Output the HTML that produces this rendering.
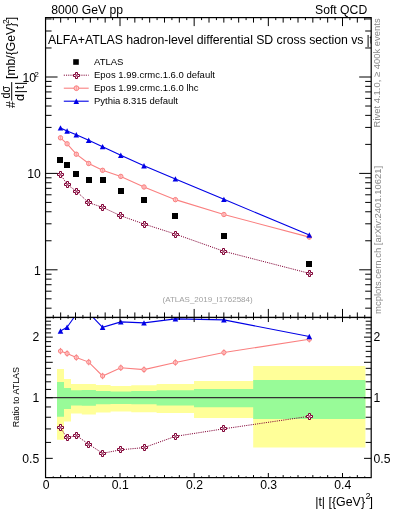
<!DOCTYPE html><html><head><meta charset="utf-8"><style>html,body{margin:0;padding:0;background:#fff;width:393px;height:512px;overflow:hidden}svg{display:block;will-change:transform}</style></head><body><svg width="393" height="512" viewBox="0 0 393 512" font-family="Liberation Sans, sans-serif">
<rect x="0" y="0" width="393" height="512" fill="#fff"/>
<defs>
<clipPath id="cm"><rect x="45.55" y="17.6" width="325.65" height="299.84999999999997"/></clipPath>
<clipPath id="cr"><rect x="45.55" y="317.45" width="325.65" height="160.15000000000003"/></clipPath>
</defs>
<g clip-path="url(#cr)">
<path d="M57.00,369.00 L64.00,369.00 L64.00,378.90 L71.00,378.90 L71.00,384.10 L81.80,384.10 L81.80,383.90 L95.90,383.90 L95.90,385.10 L110.60,385.10 L110.60,385.90 L131.30,385.90 L131.30,385.20 L156.60,385.20 L156.60,384.00 L194.00,384.00 L194.00,381.00 L253.20,381.00 L253.20,366.10 L365.40,366.10 L365.40,447.40 L253.20,447.40 L253.20,418.00 L194.00,418.00 L194.00,413.00 L156.60,413.00 L156.60,412.35 L131.30,412.35 L131.30,411.40 L110.60,411.40 L110.60,412.40 L95.90,412.40 L95.90,414.40 L81.80,414.40 L81.80,413.50 L71.00,413.50 L71.00,421.60 L64.00,421.60 L64.00,439.70 L57.00,439.70Z" fill="#ffff99"/>
<path d="M57.00,381.90 L64.00,381.90 L64.00,388.00 L71.00,388.00 L71.00,390.30 L81.80,390.30 L81.80,390.10 L95.90,390.10 L95.90,391.00 L110.60,391.00 L110.60,391.45 L131.30,391.45 L131.30,391.00 L156.60,391.00 L156.60,390.30 L194.00,390.30 L194.00,389.00 L253.20,389.00 L253.20,380.00 L365.40,380.00 L365.40,419.00 L253.20,419.00 L253.20,407.20 L194.00,407.20 L194.00,405.50 L156.60,405.50 L156.60,404.30 L131.30,404.30 L131.30,404.00 L110.60,404.00 L110.60,404.30 L95.90,404.30 L95.90,405.80 L81.80,405.80 L81.80,405.50 L71.00,405.50 L71.00,409.00 L64.00,409.00 L64.00,416.80 L57.00,416.80Z" fill="#98fb98"/>
<line x1="45.55" y1="397.65" x2="371.2" y2="397.65" stroke="#333" stroke-width="1.2"/>
</g>
<g clip-path="url(#cr)">
<path d="M60.50,427.80 L67.10,437.90 L76.30,435.50 L88.70,444.20 L102.60,453.30 L120.80,449.80 L144.00,447.60 L175.40,436.35 L223.90,428.80 L309.30,416.30" fill="none" stroke="#800035" stroke-width="1.0" stroke-dasharray="1.1,1.1"/>
<path d="M60.50,351.10 L67.10,353.50 L76.30,357.50 L88.70,362.10 L102.60,376.00 L120.80,367.80 L144.00,369.60 L175.40,362.50 L223.90,352.50 L309.30,339.30" fill="none" stroke="#fa8080" stroke-width="1.1"/>
<path d="M60.50,331.00 L67.10,327.20 L76.30,314.20 L88.70,312.90 L102.60,327.30 L120.80,321.90 L144.00,322.90 L175.40,318.90 L223.90,319.90 L309.30,336.50" fill="none" stroke="#0000e6" stroke-width="1.1"/>
<path d="M59.50,424.50 L61.50,424.50 L61.50,426.50 L63.50,426.50 L63.50,428.50 L61.50,428.50 L61.50,430.50 L59.50,430.50 L59.50,428.50 L57.50,428.50 L57.50,426.50 L59.50,426.50Z" fill="#fff" stroke="#800035" stroke-width="1.0"/><path d="M60.50,426.10V428.90M59.10,427.50H61.90" stroke="#800035" stroke-width="0.5" fill="none"/>
<path d="M66.50,434.50 L68.50,434.50 L68.50,436.50 L70.50,436.50 L70.50,438.50 L68.50,438.50 L68.50,440.50 L66.50,440.50 L66.50,438.50 L64.50,438.50 L64.50,436.50 L66.50,436.50Z" fill="#fff" stroke="#800035" stroke-width="1.0"/><path d="M67.50,436.10V438.90M66.10,437.50H68.90" stroke="#800035" stroke-width="0.5" fill="none"/>
<path d="M75.50,432.50 L77.50,432.50 L77.50,434.50 L79.50,434.50 L79.50,436.50 L77.50,436.50 L77.50,438.50 L75.50,438.50 L75.50,436.50 L73.50,436.50 L73.50,434.50 L75.50,434.50Z" fill="#fff" stroke="#800035" stroke-width="1.0"/><path d="M76.50,434.10V436.90M75.10,435.50H77.90" stroke="#800035" stroke-width="0.5" fill="none"/>
<path d="M87.50,441.50 L89.50,441.50 L89.50,443.50 L91.50,443.50 L91.50,445.50 L89.50,445.50 L89.50,447.50 L87.50,447.50 L87.50,445.50 L85.50,445.50 L85.50,443.50 L87.50,443.50Z" fill="#fff" stroke="#800035" stroke-width="1.0"/><path d="M88.50,443.10V445.90M87.10,444.50H89.90" stroke="#800035" stroke-width="0.5" fill="none"/>
<path d="M101.50,450.50 L103.50,450.50 L103.50,452.50 L105.50,452.50 L105.50,454.50 L103.50,454.50 L103.50,456.50 L101.50,456.50 L101.50,454.50 L99.50,454.50 L99.50,452.50 L101.50,452.50Z" fill="#fff" stroke="#800035" stroke-width="1.0"/><path d="M102.50,452.10V454.90M101.10,453.50H103.90" stroke="#800035" stroke-width="0.5" fill="none"/>
<path d="M119.50,446.50 L121.50,446.50 L121.50,448.50 L123.50,448.50 L123.50,450.50 L121.50,450.50 L121.50,452.50 L119.50,452.50 L119.50,450.50 L117.50,450.50 L117.50,448.50 L119.50,448.50Z" fill="#fff" stroke="#800035" stroke-width="1.0"/><path d="M120.50,448.10V450.90M119.10,449.50H121.90" stroke="#800035" stroke-width="0.5" fill="none"/>
<path d="M143.50,444.50 L145.50,444.50 L145.50,446.50 L147.50,446.50 L147.50,448.50 L145.50,448.50 L145.50,450.50 L143.50,450.50 L143.50,448.50 L141.50,448.50 L141.50,446.50 L143.50,446.50Z" fill="#fff" stroke="#800035" stroke-width="1.0"/><path d="M144.50,446.10V448.90M143.10,447.50H145.90" stroke="#800035" stroke-width="0.5" fill="none"/>
<path d="M174.50,433.50 L176.50,433.50 L176.50,435.50 L178.50,435.50 L178.50,437.50 L176.50,437.50 L176.50,439.50 L174.50,439.50 L174.50,437.50 L172.50,437.50 L172.50,435.50 L174.50,435.50Z" fill="#fff" stroke="#800035" stroke-width="1.0"/><path d="M175.50,435.10V437.90M174.10,436.50H176.90" stroke="#800035" stroke-width="0.5" fill="none"/>
<path d="M222.50,425.50 L224.50,425.50 L224.50,427.50 L226.50,427.50 L226.50,429.50 L224.50,429.50 L224.50,431.50 L222.50,431.50 L222.50,429.50 L220.50,429.50 L220.50,427.50 L222.50,427.50Z" fill="#fff" stroke="#800035" stroke-width="1.0"/><path d="M223.50,427.10V429.90M222.10,428.50H224.90" stroke="#800035" stroke-width="0.5" fill="none"/>
<path d="M308.50,413.50 L310.50,413.50 L310.50,415.50 L312.50,415.50 L312.50,417.50 L310.50,417.50 L310.50,419.50 L308.50,419.50 L308.50,417.50 L306.50,417.50 L306.50,415.50 L308.50,415.50Z" fill="#fff" stroke="#800035" stroke-width="1.0"/><path d="M309.50,415.10V417.90M308.10,416.50H310.90" stroke="#800035" stroke-width="0.5" fill="none"/>
<line x1="60.50" y1="347.90" x2="60.50" y2="354.30" stroke="#fa8080" stroke-width="1"/>
<circle cx="60.50" cy="351.10" r="2.1" fill="#fcc" stroke="#fa8080" stroke-width="1.0"/><path d="M60.50,349.00V353.20" stroke="#fa8080" stroke-width="0.6"/>
<line x1="67.10" y1="350.30" x2="67.10" y2="356.70" stroke="#fa8080" stroke-width="1"/>
<circle cx="67.10" cy="353.50" r="2.1" fill="#fcc" stroke="#fa8080" stroke-width="1.0"/><path d="M67.10,351.40V355.60" stroke="#fa8080" stroke-width="0.6"/>
<line x1="76.30" y1="354.30" x2="76.30" y2="360.70" stroke="#fa8080" stroke-width="1"/>
<circle cx="76.30" cy="357.50" r="2.1" fill="#fcc" stroke="#fa8080" stroke-width="1.0"/><path d="M76.30,355.40V359.60" stroke="#fa8080" stroke-width="0.6"/>
<line x1="88.70" y1="358.90" x2="88.70" y2="365.30" stroke="#fa8080" stroke-width="1"/>
<circle cx="88.70" cy="362.10" r="2.1" fill="#fcc" stroke="#fa8080" stroke-width="1.0"/><path d="M88.70,360.00V364.20" stroke="#fa8080" stroke-width="0.6"/>
<line x1="102.60" y1="372.80" x2="102.60" y2="379.20" stroke="#fa8080" stroke-width="1"/>
<circle cx="102.60" cy="376.00" r="2.1" fill="#fcc" stroke="#fa8080" stroke-width="1.0"/><path d="M102.60,373.90V378.10" stroke="#fa8080" stroke-width="0.6"/>
<line x1="120.80" y1="364.60" x2="120.80" y2="371.00" stroke="#fa8080" stroke-width="1"/>
<circle cx="120.80" cy="367.80" r="2.1" fill="#fcc" stroke="#fa8080" stroke-width="1.0"/><path d="M120.80,365.70V369.90" stroke="#fa8080" stroke-width="0.6"/>
<line x1="144.00" y1="366.40" x2="144.00" y2="372.80" stroke="#fa8080" stroke-width="1"/>
<circle cx="144.00" cy="369.60" r="2.1" fill="#fcc" stroke="#fa8080" stroke-width="1.0"/><path d="M144.00,367.50V371.70" stroke="#fa8080" stroke-width="0.6"/>
<line x1="175.40" y1="359.30" x2="175.40" y2="365.70" stroke="#fa8080" stroke-width="1"/>
<circle cx="175.40" cy="362.50" r="2.1" fill="#fcc" stroke="#fa8080" stroke-width="1.0"/><path d="M175.40,360.40V364.60" stroke="#fa8080" stroke-width="0.6"/>
<line x1="223.90" y1="349.30" x2="223.90" y2="355.70" stroke="#fa8080" stroke-width="1"/>
<circle cx="223.90" cy="352.50" r="2.1" fill="#fcc" stroke="#fa8080" stroke-width="1.0"/><path d="M223.90,350.40V354.60" stroke="#fa8080" stroke-width="0.6"/>
<line x1="309.30" y1="336.10" x2="309.30" y2="342.50" stroke="#fa8080" stroke-width="1"/>
<circle cx="309.30" cy="339.30" r="2.1" fill="#fcc" stroke="#fa8080" stroke-width="1.0"/><path d="M309.30,337.20V341.40" stroke="#fa8080" stroke-width="0.6"/>
<path d="M60.50,328.30 L63.30,333.70 L57.70,333.70Z" fill="#0000e6"/>
<path d="M67.10,324.50 L69.90,329.90 L64.30,329.90Z" fill="#0000e6"/>
<path d="M76.30,311.50 L79.10,316.90 L73.50,316.90Z" fill="#0000e6"/>
<path d="M88.70,310.20 L91.50,315.60 L85.90,315.60Z" fill="#0000e6"/>
<path d="M102.60,324.60 L105.40,330.00 L99.80,330.00Z" fill="#0000e6"/>
<path d="M120.80,319.20 L123.60,324.60 L118.00,324.60Z" fill="#0000e6"/>
<path d="M144.00,320.20 L146.80,325.60 L141.20,325.60Z" fill="#0000e6"/>
<path d="M175.40,316.20 L178.20,321.60 L172.60,321.60Z" fill="#0000e6"/>
<path d="M223.90,317.20 L226.70,322.60 L221.10,322.60Z" fill="#0000e6"/>
<path d="M309.30,333.80 L312.10,339.20 L306.50,339.20Z" fill="#0000e6"/>
</g>
<g clip-path="url(#cm)">
<path d="M60.50,174.35 L67.10,184.40 L76.30,191.20 L88.70,202.70 L102.60,207.30 L120.80,215.80 L144.00,224.00 L175.40,234.10 L223.90,251.30 L309.30,273.35" fill="none" stroke="#800035" stroke-width="1.0" stroke-dasharray="1.1,1.1"/>
<path d="M60.50,137.80 L67.10,143.80 L76.30,154.20 L88.70,163.50 L102.60,170.30 L120.80,176.40 L144.00,187.00 L175.40,199.65 L223.90,214.50 L309.30,237.10" fill="none" stroke="#fa8080" stroke-width="1.1"/>
<path d="M60.50,127.90 L67.10,131.00 L76.30,134.70 L88.70,140.30 L102.60,146.65 L120.80,155.30 L144.00,165.70 L175.40,178.90 L223.90,199.35 L309.30,235.00" fill="none" stroke="#0000e6" stroke-width="1.1"/>
<rect x="57.00" y="157.00" width="6.0" height="6.0" fill="#000"/>
<rect x="64.00" y="162.00" width="6.0" height="6.0" fill="#000"/>
<rect x="73.00" y="171.00" width="6.0" height="6.0" fill="#000"/>
<rect x="86.00" y="177.00" width="6.0" height="6.0" fill="#000"/>
<rect x="100.00" y="177.00" width="6.0" height="6.0" fill="#000"/>
<rect x="118.00" y="188.00" width="6.0" height="6.0" fill="#000"/>
<rect x="141.00" y="197.00" width="6.0" height="6.0" fill="#000"/>
<rect x="172.00" y="213.00" width="6.0" height="6.0" fill="#000"/>
<rect x="221.00" y="233.00" width="6.0" height="6.0" fill="#000"/>
<rect x="306.00" y="261.00" width="6.0" height="6.0" fill="#000"/>
<path d="M59.50,171.50 L61.50,171.50 L61.50,173.50 L63.50,173.50 L63.50,175.50 L61.50,175.50 L61.50,177.50 L59.50,177.50 L59.50,175.50 L57.50,175.50 L57.50,173.50 L59.50,173.50Z" fill="#fff" stroke="#800035" stroke-width="1.0"/><path d="M60.50,173.10V175.90M59.10,174.50H61.90" stroke="#800035" stroke-width="0.5" fill="none"/>
<path d="M66.50,181.50 L68.50,181.50 L68.50,183.50 L70.50,183.50 L70.50,185.50 L68.50,185.50 L68.50,187.50 L66.50,187.50 L66.50,185.50 L64.50,185.50 L64.50,183.50 L66.50,183.50Z" fill="#fff" stroke="#800035" stroke-width="1.0"/><path d="M67.50,183.10V185.90M66.10,184.50H68.90" stroke="#800035" stroke-width="0.5" fill="none"/>
<path d="M75.50,188.50 L77.50,188.50 L77.50,190.50 L79.50,190.50 L79.50,192.50 L77.50,192.50 L77.50,194.50 L75.50,194.50 L75.50,192.50 L73.50,192.50 L73.50,190.50 L75.50,190.50Z" fill="#fff" stroke="#800035" stroke-width="1.0"/><path d="M76.50,190.10V192.90M75.10,191.50H77.90" stroke="#800035" stroke-width="0.5" fill="none"/>
<path d="M87.50,199.50 L89.50,199.50 L89.50,201.50 L91.50,201.50 L91.50,203.50 L89.50,203.50 L89.50,205.50 L87.50,205.50 L87.50,203.50 L85.50,203.50 L85.50,201.50 L87.50,201.50Z" fill="#fff" stroke="#800035" stroke-width="1.0"/><path d="M88.50,201.10V203.90M87.10,202.50H89.90" stroke="#800035" stroke-width="0.5" fill="none"/>
<path d="M101.50,204.50 L103.50,204.50 L103.50,206.50 L105.50,206.50 L105.50,208.50 L103.50,208.50 L103.50,210.50 L101.50,210.50 L101.50,208.50 L99.50,208.50 L99.50,206.50 L101.50,206.50Z" fill="#fff" stroke="#800035" stroke-width="1.0"/><path d="M102.50,206.10V208.90M101.10,207.50H103.90" stroke="#800035" stroke-width="0.5" fill="none"/>
<path d="M119.50,212.50 L121.50,212.50 L121.50,214.50 L123.50,214.50 L123.50,216.50 L121.50,216.50 L121.50,218.50 L119.50,218.50 L119.50,216.50 L117.50,216.50 L117.50,214.50 L119.50,214.50Z" fill="#fff" stroke="#800035" stroke-width="1.0"/><path d="M120.50,214.10V216.90M119.10,215.50H121.90" stroke="#800035" stroke-width="0.5" fill="none"/>
<path d="M143.50,221.50 L145.50,221.50 L145.50,223.50 L147.50,223.50 L147.50,225.50 L145.50,225.50 L145.50,227.50 L143.50,227.50 L143.50,225.50 L141.50,225.50 L141.50,223.50 L143.50,223.50Z" fill="#fff" stroke="#800035" stroke-width="1.0"/><path d="M144.50,223.10V225.90M143.10,224.50H145.90" stroke="#800035" stroke-width="0.5" fill="none"/>
<path d="M174.50,231.50 L176.50,231.50 L176.50,233.50 L178.50,233.50 L178.50,235.50 L176.50,235.50 L176.50,237.50 L174.50,237.50 L174.50,235.50 L172.50,235.50 L172.50,233.50 L174.50,233.50Z" fill="#fff" stroke="#800035" stroke-width="1.0"/><path d="M175.50,233.10V235.90M174.10,234.50H176.90" stroke="#800035" stroke-width="0.5" fill="none"/>
<path d="M222.50,248.50 L224.50,248.50 L224.50,250.50 L226.50,250.50 L226.50,252.50 L224.50,252.50 L224.50,254.50 L222.50,254.50 L222.50,252.50 L220.50,252.50 L220.50,250.50 L222.50,250.50Z" fill="#fff" stroke="#800035" stroke-width="1.0"/><path d="M223.50,250.10V252.90M222.10,251.50H224.90" stroke="#800035" stroke-width="0.5" fill="none"/>
<path d="M308.50,270.50 L310.50,270.50 L310.50,272.50 L312.50,272.50 L312.50,274.50 L310.50,274.50 L310.50,276.50 L308.50,276.50 L308.50,274.50 L306.50,274.50 L306.50,272.50 L308.50,272.50Z" fill="#fff" stroke="#800035" stroke-width="1.0"/><path d="M309.50,272.10V274.90M308.10,273.50H310.90" stroke="#800035" stroke-width="0.5" fill="none"/>
<circle cx="60.50" cy="137.80" r="2.2" fill="#fcc" stroke="#fa8080" stroke-width="1.0"/><path d="M60.50,135.60V140.00" stroke="#fa8080" stroke-width="0.6"/>
<circle cx="67.10" cy="143.80" r="2.2" fill="#fcc" stroke="#fa8080" stroke-width="1.0"/><path d="M67.10,141.60V146.00" stroke="#fa8080" stroke-width="0.6"/>
<circle cx="76.30" cy="154.20" r="2.2" fill="#fcc" stroke="#fa8080" stroke-width="1.0"/><path d="M76.30,152.00V156.40" stroke="#fa8080" stroke-width="0.6"/>
<circle cx="88.70" cy="163.50" r="2.2" fill="#fcc" stroke="#fa8080" stroke-width="1.0"/><path d="M88.70,161.30V165.70" stroke="#fa8080" stroke-width="0.6"/>
<circle cx="102.60" cy="170.30" r="2.2" fill="#fcc" stroke="#fa8080" stroke-width="1.0"/><path d="M102.60,168.10V172.50" stroke="#fa8080" stroke-width="0.6"/>
<circle cx="120.80" cy="176.40" r="2.2" fill="#fcc" stroke="#fa8080" stroke-width="1.0"/><path d="M120.80,174.20V178.60" stroke="#fa8080" stroke-width="0.6"/>
<circle cx="144.00" cy="187.00" r="2.2" fill="#fcc" stroke="#fa8080" stroke-width="1.0"/><path d="M144.00,184.80V189.20" stroke="#fa8080" stroke-width="0.6"/>
<circle cx="175.40" cy="199.65" r="2.2" fill="#fcc" stroke="#fa8080" stroke-width="1.0"/><path d="M175.40,197.45V201.85" stroke="#fa8080" stroke-width="0.6"/>
<circle cx="223.90" cy="214.50" r="2.2" fill="#fcc" stroke="#fa8080" stroke-width="1.0"/><path d="M223.90,212.30V216.70" stroke="#fa8080" stroke-width="0.6"/>
<circle cx="309.30" cy="237.10" r="2.2" fill="#fcc" stroke="#fa8080" stroke-width="1.0"/><path d="M309.30,234.90V239.30" stroke="#fa8080" stroke-width="0.6"/>
<path d="M60.50,125.20 L63.30,130.60 L57.70,130.60Z" fill="#0000e6"/>
<path d="M67.10,128.30 L69.90,133.70 L64.30,133.70Z" fill="#0000e6"/>
<path d="M76.30,132.00 L79.10,137.40 L73.50,137.40Z" fill="#0000e6"/>
<path d="M88.70,137.60 L91.50,143.00 L85.90,143.00Z" fill="#0000e6"/>
<path d="M102.60,143.95 L105.40,149.35 L99.80,149.35Z" fill="#0000e6"/>
<path d="M120.80,152.60 L123.60,158.00 L118.00,158.00Z" fill="#0000e6"/>
<path d="M144.00,163.00 L146.80,168.40 L141.20,168.40Z" fill="#0000e6"/>
<path d="M175.40,176.20 L178.20,181.60 L172.60,181.60Z" fill="#0000e6"/>
<path d="M223.90,196.65 L226.70,202.05 L221.10,202.05Z" fill="#0000e6"/>
<path d="M309.30,232.30 L312.10,237.70 L306.50,237.70Z" fill="#0000e6"/>
</g>
<rect x="73.20" y="59.20" width="5.6" height="5.6" fill="#000"/>
<path d="M63.80,75.20 L88.70,75.20" fill="none" stroke="#800035" stroke-width="1.0" stroke-dasharray="1.1,1.1"/>
<path d="M75.50,72.50 L77.50,72.50 L77.50,74.50 L79.50,74.50 L79.50,76.50 L77.50,76.50 L77.50,78.50 L75.50,78.50 L75.50,76.50 L73.50,76.50 L73.50,74.50 L75.50,74.50Z" fill="#fff" stroke="#800035" stroke-width="1.0"/><path d="M76.50,74.10V76.90M75.10,75.50H77.90" stroke="#800035" stroke-width="0.5" fill="none"/>
<path d="M63.80,88.20 L88.70,88.20" fill="none" stroke="#fa8080" stroke-width="1.1"/>
<circle cx="76.40" cy="88.20" r="2.4" fill="#fcc" stroke="#fa8080" stroke-width="1.0"/><path d="M76.40,85.80V90.60" stroke="#fa8080" stroke-width="0.6"/>
<path d="M63.80,101.20 L88.70,101.20" fill="none" stroke="#0000e6" stroke-width="1.1"/>
<path d="M76.30,98.50 L79.10,103.90 L73.50,103.90Z" fill="#0000e6"/>
<text x="94" y="65" font-size="9.5" fill="#000">ATLAS</text>
<text x="94" y="78" font-size="9.5" fill="#000">Epos 1.99.crmc.1.6.0 default</text>
<text x="94" y="91" font-size="9.5" fill="#000">Epos 1.99.crmc.1.6.0 lhc</text>
<text x="94" y="104" font-size="9.5" fill="#000">Pythia 8.315 default</text>
<line x1="53.25" y1="17.60" x2="53.25" y2="20.10" stroke="#000" stroke-width="1.0"/>
<line x1="53.25" y1="317.45" x2="53.25" y2="314.95" stroke="#000" stroke-width="1.0"/>
<line x1="53.25" y1="317.45" x2="53.25" y2="318.65" stroke="#000" stroke-width="1.0"/>
<line x1="53.25" y1="477.60" x2="53.25" y2="476.40" stroke="#000" stroke-width="1.0"/>
<line x1="60.66" y1="17.60" x2="60.66" y2="22.60" stroke="#000" stroke-width="1.0"/>
<line x1="60.66" y1="317.45" x2="60.66" y2="312.45" stroke="#000" stroke-width="1.0"/>
<line x1="60.66" y1="317.45" x2="60.66" y2="319.95" stroke="#000" stroke-width="1.0"/>
<line x1="60.66" y1="477.60" x2="60.66" y2="475.10" stroke="#000" stroke-width="1.0"/>
<line x1="68.08" y1="17.60" x2="68.08" y2="20.10" stroke="#000" stroke-width="1.0"/>
<line x1="68.08" y1="317.45" x2="68.08" y2="314.95" stroke="#000" stroke-width="1.0"/>
<line x1="68.08" y1="317.45" x2="68.08" y2="318.65" stroke="#000" stroke-width="1.0"/>
<line x1="68.08" y1="477.60" x2="68.08" y2="476.40" stroke="#000" stroke-width="1.0"/>
<line x1="75.50" y1="17.60" x2="75.50" y2="22.60" stroke="#000" stroke-width="1.0"/>
<line x1="75.50" y1="317.45" x2="75.50" y2="312.45" stroke="#000" stroke-width="1.0"/>
<line x1="75.50" y1="317.45" x2="75.50" y2="319.95" stroke="#000" stroke-width="1.0"/>
<line x1="75.50" y1="477.60" x2="75.50" y2="475.10" stroke="#000" stroke-width="1.0"/>
<line x1="82.91" y1="17.60" x2="82.91" y2="20.10" stroke="#000" stroke-width="1.0"/>
<line x1="82.91" y1="317.45" x2="82.91" y2="314.95" stroke="#000" stroke-width="1.0"/>
<line x1="82.91" y1="317.45" x2="82.91" y2="318.65" stroke="#000" stroke-width="1.0"/>
<line x1="82.91" y1="477.60" x2="82.91" y2="476.40" stroke="#000" stroke-width="1.0"/>
<line x1="90.33" y1="17.60" x2="90.33" y2="22.60" stroke="#000" stroke-width="1.0"/>
<line x1="90.33" y1="317.45" x2="90.33" y2="312.45" stroke="#000" stroke-width="1.0"/>
<line x1="90.33" y1="317.45" x2="90.33" y2="319.95" stroke="#000" stroke-width="1.0"/>
<line x1="90.33" y1="477.60" x2="90.33" y2="475.10" stroke="#000" stroke-width="1.0"/>
<line x1="97.75" y1="17.60" x2="97.75" y2="20.10" stroke="#000" stroke-width="1.0"/>
<line x1="97.75" y1="317.45" x2="97.75" y2="314.95" stroke="#000" stroke-width="1.0"/>
<line x1="97.75" y1="317.45" x2="97.75" y2="318.65" stroke="#000" stroke-width="1.0"/>
<line x1="97.75" y1="477.60" x2="97.75" y2="476.40" stroke="#000" stroke-width="1.0"/>
<line x1="105.16" y1="17.60" x2="105.16" y2="22.60" stroke="#000" stroke-width="1.0"/>
<line x1="105.16" y1="317.45" x2="105.16" y2="312.45" stroke="#000" stroke-width="1.0"/>
<line x1="105.16" y1="317.45" x2="105.16" y2="319.95" stroke="#000" stroke-width="1.0"/>
<line x1="105.16" y1="477.60" x2="105.16" y2="475.10" stroke="#000" stroke-width="1.0"/>
<line x1="112.58" y1="17.60" x2="112.58" y2="20.10" stroke="#000" stroke-width="1.0"/>
<line x1="112.58" y1="317.45" x2="112.58" y2="314.95" stroke="#000" stroke-width="1.0"/>
<line x1="112.58" y1="317.45" x2="112.58" y2="318.65" stroke="#000" stroke-width="1.0"/>
<line x1="112.58" y1="477.60" x2="112.58" y2="476.40" stroke="#000" stroke-width="1.0"/>
<line x1="120.00" y1="17.60" x2="120.00" y2="26.10" stroke="#000" stroke-width="1.0"/>
<line x1="120.00" y1="317.45" x2="120.00" y2="308.95" stroke="#000" stroke-width="1.0"/>
<line x1="120.00" y1="317.45" x2="120.00" y2="322.05" stroke="#000" stroke-width="1.0"/>
<line x1="120.00" y1="477.60" x2="120.00" y2="473.00" stroke="#000" stroke-width="1.0"/>
<line x1="127.41" y1="17.60" x2="127.41" y2="20.10" stroke="#000" stroke-width="1.0"/>
<line x1="127.41" y1="317.45" x2="127.41" y2="314.95" stroke="#000" stroke-width="1.0"/>
<line x1="127.41" y1="317.45" x2="127.41" y2="318.65" stroke="#000" stroke-width="1.0"/>
<line x1="127.41" y1="477.60" x2="127.41" y2="476.40" stroke="#000" stroke-width="1.0"/>
<line x1="134.83" y1="17.60" x2="134.83" y2="22.60" stroke="#000" stroke-width="1.0"/>
<line x1="134.83" y1="317.45" x2="134.83" y2="312.45" stroke="#000" stroke-width="1.0"/>
<line x1="134.83" y1="317.45" x2="134.83" y2="319.95" stroke="#000" stroke-width="1.0"/>
<line x1="134.83" y1="477.60" x2="134.83" y2="475.10" stroke="#000" stroke-width="1.0"/>
<line x1="142.25" y1="17.60" x2="142.25" y2="20.10" stroke="#000" stroke-width="1.0"/>
<line x1="142.25" y1="317.45" x2="142.25" y2="314.95" stroke="#000" stroke-width="1.0"/>
<line x1="142.25" y1="317.45" x2="142.25" y2="318.65" stroke="#000" stroke-width="1.0"/>
<line x1="142.25" y1="477.60" x2="142.25" y2="476.40" stroke="#000" stroke-width="1.0"/>
<line x1="149.66" y1="17.60" x2="149.66" y2="22.60" stroke="#000" stroke-width="1.0"/>
<line x1="149.66" y1="317.45" x2="149.66" y2="312.45" stroke="#000" stroke-width="1.0"/>
<line x1="149.66" y1="317.45" x2="149.66" y2="319.95" stroke="#000" stroke-width="1.0"/>
<line x1="149.66" y1="477.60" x2="149.66" y2="475.10" stroke="#000" stroke-width="1.0"/>
<line x1="157.08" y1="17.60" x2="157.08" y2="20.10" stroke="#000" stroke-width="1.0"/>
<line x1="157.08" y1="317.45" x2="157.08" y2="314.95" stroke="#000" stroke-width="1.0"/>
<line x1="157.08" y1="317.45" x2="157.08" y2="318.65" stroke="#000" stroke-width="1.0"/>
<line x1="157.08" y1="477.60" x2="157.08" y2="476.40" stroke="#000" stroke-width="1.0"/>
<line x1="164.50" y1="17.60" x2="164.50" y2="22.60" stroke="#000" stroke-width="1.0"/>
<line x1="164.50" y1="317.45" x2="164.50" y2="312.45" stroke="#000" stroke-width="1.0"/>
<line x1="164.50" y1="317.45" x2="164.50" y2="319.95" stroke="#000" stroke-width="1.0"/>
<line x1="164.50" y1="477.60" x2="164.50" y2="475.10" stroke="#000" stroke-width="1.0"/>
<line x1="171.91" y1="17.60" x2="171.91" y2="20.10" stroke="#000" stroke-width="1.0"/>
<line x1="171.91" y1="317.45" x2="171.91" y2="314.95" stroke="#000" stroke-width="1.0"/>
<line x1="171.91" y1="317.45" x2="171.91" y2="318.65" stroke="#000" stroke-width="1.0"/>
<line x1="171.91" y1="477.60" x2="171.91" y2="476.40" stroke="#000" stroke-width="1.0"/>
<line x1="179.33" y1="17.60" x2="179.33" y2="22.60" stroke="#000" stroke-width="1.0"/>
<line x1="179.33" y1="317.45" x2="179.33" y2="312.45" stroke="#000" stroke-width="1.0"/>
<line x1="179.33" y1="317.45" x2="179.33" y2="319.95" stroke="#000" stroke-width="1.0"/>
<line x1="179.33" y1="477.60" x2="179.33" y2="475.10" stroke="#000" stroke-width="1.0"/>
<line x1="186.75" y1="17.60" x2="186.75" y2="20.10" stroke="#000" stroke-width="1.0"/>
<line x1="186.75" y1="317.45" x2="186.75" y2="314.95" stroke="#000" stroke-width="1.0"/>
<line x1="186.75" y1="317.45" x2="186.75" y2="318.65" stroke="#000" stroke-width="1.0"/>
<line x1="186.75" y1="477.60" x2="186.75" y2="476.40" stroke="#000" stroke-width="1.0"/>
<line x1="194.16" y1="17.60" x2="194.16" y2="26.10" stroke="#000" stroke-width="1.0"/>
<line x1="194.16" y1="317.45" x2="194.16" y2="308.95" stroke="#000" stroke-width="1.0"/>
<line x1="194.16" y1="317.45" x2="194.16" y2="322.05" stroke="#000" stroke-width="1.0"/>
<line x1="194.16" y1="477.60" x2="194.16" y2="473.00" stroke="#000" stroke-width="1.0"/>
<line x1="201.58" y1="17.60" x2="201.58" y2="20.10" stroke="#000" stroke-width="1.0"/>
<line x1="201.58" y1="317.45" x2="201.58" y2="314.95" stroke="#000" stroke-width="1.0"/>
<line x1="201.58" y1="317.45" x2="201.58" y2="318.65" stroke="#000" stroke-width="1.0"/>
<line x1="201.58" y1="477.60" x2="201.58" y2="476.40" stroke="#000" stroke-width="1.0"/>
<line x1="209.00" y1="17.60" x2="209.00" y2="22.60" stroke="#000" stroke-width="1.0"/>
<line x1="209.00" y1="317.45" x2="209.00" y2="312.45" stroke="#000" stroke-width="1.0"/>
<line x1="209.00" y1="317.45" x2="209.00" y2="319.95" stroke="#000" stroke-width="1.0"/>
<line x1="209.00" y1="477.60" x2="209.00" y2="475.10" stroke="#000" stroke-width="1.0"/>
<line x1="216.41" y1="17.60" x2="216.41" y2="20.10" stroke="#000" stroke-width="1.0"/>
<line x1="216.41" y1="317.45" x2="216.41" y2="314.95" stroke="#000" stroke-width="1.0"/>
<line x1="216.41" y1="317.45" x2="216.41" y2="318.65" stroke="#000" stroke-width="1.0"/>
<line x1="216.41" y1="477.60" x2="216.41" y2="476.40" stroke="#000" stroke-width="1.0"/>
<line x1="223.83" y1="17.60" x2="223.83" y2="22.60" stroke="#000" stroke-width="1.0"/>
<line x1="223.83" y1="317.45" x2="223.83" y2="312.45" stroke="#000" stroke-width="1.0"/>
<line x1="223.83" y1="317.45" x2="223.83" y2="319.95" stroke="#000" stroke-width="1.0"/>
<line x1="223.83" y1="477.60" x2="223.83" y2="475.10" stroke="#000" stroke-width="1.0"/>
<line x1="231.25" y1="17.60" x2="231.25" y2="20.10" stroke="#000" stroke-width="1.0"/>
<line x1="231.25" y1="317.45" x2="231.25" y2="314.95" stroke="#000" stroke-width="1.0"/>
<line x1="231.25" y1="317.45" x2="231.25" y2="318.65" stroke="#000" stroke-width="1.0"/>
<line x1="231.25" y1="477.60" x2="231.25" y2="476.40" stroke="#000" stroke-width="1.0"/>
<line x1="238.66" y1="17.60" x2="238.66" y2="22.60" stroke="#000" stroke-width="1.0"/>
<line x1="238.66" y1="317.45" x2="238.66" y2="312.45" stroke="#000" stroke-width="1.0"/>
<line x1="238.66" y1="317.45" x2="238.66" y2="319.95" stroke="#000" stroke-width="1.0"/>
<line x1="238.66" y1="477.60" x2="238.66" y2="475.10" stroke="#000" stroke-width="1.0"/>
<line x1="246.08" y1="17.60" x2="246.08" y2="20.10" stroke="#000" stroke-width="1.0"/>
<line x1="246.08" y1="317.45" x2="246.08" y2="314.95" stroke="#000" stroke-width="1.0"/>
<line x1="246.08" y1="317.45" x2="246.08" y2="318.65" stroke="#000" stroke-width="1.0"/>
<line x1="246.08" y1="477.60" x2="246.08" y2="476.40" stroke="#000" stroke-width="1.0"/>
<line x1="253.50" y1="17.60" x2="253.50" y2="22.60" stroke="#000" stroke-width="1.0"/>
<line x1="253.50" y1="317.45" x2="253.50" y2="312.45" stroke="#000" stroke-width="1.0"/>
<line x1="253.50" y1="317.45" x2="253.50" y2="319.95" stroke="#000" stroke-width="1.0"/>
<line x1="253.50" y1="477.60" x2="253.50" y2="475.10" stroke="#000" stroke-width="1.0"/>
<line x1="260.91" y1="17.60" x2="260.91" y2="20.10" stroke="#000" stroke-width="1.0"/>
<line x1="260.91" y1="317.45" x2="260.91" y2="314.95" stroke="#000" stroke-width="1.0"/>
<line x1="260.91" y1="317.45" x2="260.91" y2="318.65" stroke="#000" stroke-width="1.0"/>
<line x1="260.91" y1="477.60" x2="260.91" y2="476.40" stroke="#000" stroke-width="1.0"/>
<line x1="268.33" y1="17.60" x2="268.33" y2="26.10" stroke="#000" stroke-width="1.0"/>
<line x1="268.33" y1="317.45" x2="268.33" y2="308.95" stroke="#000" stroke-width="1.0"/>
<line x1="268.33" y1="317.45" x2="268.33" y2="322.05" stroke="#000" stroke-width="1.0"/>
<line x1="268.33" y1="477.60" x2="268.33" y2="473.00" stroke="#000" stroke-width="1.0"/>
<line x1="275.75" y1="17.60" x2="275.75" y2="20.10" stroke="#000" stroke-width="1.0"/>
<line x1="275.75" y1="317.45" x2="275.75" y2="314.95" stroke="#000" stroke-width="1.0"/>
<line x1="275.75" y1="317.45" x2="275.75" y2="318.65" stroke="#000" stroke-width="1.0"/>
<line x1="275.75" y1="477.60" x2="275.75" y2="476.40" stroke="#000" stroke-width="1.0"/>
<line x1="283.16" y1="17.60" x2="283.16" y2="22.60" stroke="#000" stroke-width="1.0"/>
<line x1="283.16" y1="317.45" x2="283.16" y2="312.45" stroke="#000" stroke-width="1.0"/>
<line x1="283.16" y1="317.45" x2="283.16" y2="319.95" stroke="#000" stroke-width="1.0"/>
<line x1="283.16" y1="477.60" x2="283.16" y2="475.10" stroke="#000" stroke-width="1.0"/>
<line x1="290.58" y1="17.60" x2="290.58" y2="20.10" stroke="#000" stroke-width="1.0"/>
<line x1="290.58" y1="317.45" x2="290.58" y2="314.95" stroke="#000" stroke-width="1.0"/>
<line x1="290.58" y1="317.45" x2="290.58" y2="318.65" stroke="#000" stroke-width="1.0"/>
<line x1="290.58" y1="477.60" x2="290.58" y2="476.40" stroke="#000" stroke-width="1.0"/>
<line x1="298.00" y1="17.60" x2="298.00" y2="22.60" stroke="#000" stroke-width="1.0"/>
<line x1="298.00" y1="317.45" x2="298.00" y2="312.45" stroke="#000" stroke-width="1.0"/>
<line x1="298.00" y1="317.45" x2="298.00" y2="319.95" stroke="#000" stroke-width="1.0"/>
<line x1="298.00" y1="477.60" x2="298.00" y2="475.10" stroke="#000" stroke-width="1.0"/>
<line x1="305.41" y1="17.60" x2="305.41" y2="20.10" stroke="#000" stroke-width="1.0"/>
<line x1="305.41" y1="317.45" x2="305.41" y2="314.95" stroke="#000" stroke-width="1.0"/>
<line x1="305.41" y1="317.45" x2="305.41" y2="318.65" stroke="#000" stroke-width="1.0"/>
<line x1="305.41" y1="477.60" x2="305.41" y2="476.40" stroke="#000" stroke-width="1.0"/>
<line x1="312.83" y1="17.60" x2="312.83" y2="22.60" stroke="#000" stroke-width="1.0"/>
<line x1="312.83" y1="317.45" x2="312.83" y2="312.45" stroke="#000" stroke-width="1.0"/>
<line x1="312.83" y1="317.45" x2="312.83" y2="319.95" stroke="#000" stroke-width="1.0"/>
<line x1="312.83" y1="477.60" x2="312.83" y2="475.10" stroke="#000" stroke-width="1.0"/>
<line x1="320.25" y1="17.60" x2="320.25" y2="20.10" stroke="#000" stroke-width="1.0"/>
<line x1="320.25" y1="317.45" x2="320.25" y2="314.95" stroke="#000" stroke-width="1.0"/>
<line x1="320.25" y1="317.45" x2="320.25" y2="318.65" stroke="#000" stroke-width="1.0"/>
<line x1="320.25" y1="477.60" x2="320.25" y2="476.40" stroke="#000" stroke-width="1.0"/>
<line x1="327.66" y1="17.60" x2="327.66" y2="22.60" stroke="#000" stroke-width="1.0"/>
<line x1="327.66" y1="317.45" x2="327.66" y2="312.45" stroke="#000" stroke-width="1.0"/>
<line x1="327.66" y1="317.45" x2="327.66" y2="319.95" stroke="#000" stroke-width="1.0"/>
<line x1="327.66" y1="477.60" x2="327.66" y2="475.10" stroke="#000" stroke-width="1.0"/>
<line x1="335.08" y1="17.60" x2="335.08" y2="20.10" stroke="#000" stroke-width="1.0"/>
<line x1="335.08" y1="317.45" x2="335.08" y2="314.95" stroke="#000" stroke-width="1.0"/>
<line x1="335.08" y1="317.45" x2="335.08" y2="318.65" stroke="#000" stroke-width="1.0"/>
<line x1="335.08" y1="477.60" x2="335.08" y2="476.40" stroke="#000" stroke-width="1.0"/>
<line x1="342.50" y1="17.60" x2="342.50" y2="26.10" stroke="#000" stroke-width="1.0"/>
<line x1="342.50" y1="317.45" x2="342.50" y2="308.95" stroke="#000" stroke-width="1.0"/>
<line x1="342.50" y1="317.45" x2="342.50" y2="322.05" stroke="#000" stroke-width="1.0"/>
<line x1="342.50" y1="477.60" x2="342.50" y2="473.00" stroke="#000" stroke-width="1.0"/>
<line x1="349.91" y1="17.60" x2="349.91" y2="20.10" stroke="#000" stroke-width="1.0"/>
<line x1="349.91" y1="317.45" x2="349.91" y2="314.95" stroke="#000" stroke-width="1.0"/>
<line x1="349.91" y1="317.45" x2="349.91" y2="318.65" stroke="#000" stroke-width="1.0"/>
<line x1="349.91" y1="477.60" x2="349.91" y2="476.40" stroke="#000" stroke-width="1.0"/>
<line x1="357.33" y1="17.60" x2="357.33" y2="22.60" stroke="#000" stroke-width="1.0"/>
<line x1="357.33" y1="317.45" x2="357.33" y2="312.45" stroke="#000" stroke-width="1.0"/>
<line x1="357.33" y1="317.45" x2="357.33" y2="319.95" stroke="#000" stroke-width="1.0"/>
<line x1="357.33" y1="477.60" x2="357.33" y2="475.10" stroke="#000" stroke-width="1.0"/>
<line x1="364.75" y1="17.60" x2="364.75" y2="20.10" stroke="#000" stroke-width="1.0"/>
<line x1="364.75" y1="317.45" x2="364.75" y2="314.95" stroke="#000" stroke-width="1.0"/>
<line x1="364.75" y1="317.45" x2="364.75" y2="318.65" stroke="#000" stroke-width="1.0"/>
<line x1="364.75" y1="477.60" x2="364.75" y2="476.40" stroke="#000" stroke-width="1.0"/>
<line x1="45.55" y1="308.16" x2="51.55" y2="308.16" stroke="#000" stroke-width="1.0"/>
<line x1="371.20" y1="308.16" x2="365.20" y2="308.16" stroke="#000" stroke-width="1.0"/>
<line x1="45.55" y1="298.82" x2="51.55" y2="298.82" stroke="#000" stroke-width="1.0"/>
<line x1="371.20" y1="298.82" x2="365.20" y2="298.82" stroke="#000" stroke-width="1.0"/>
<line x1="45.55" y1="291.19" x2="51.55" y2="291.19" stroke="#000" stroke-width="1.0"/>
<line x1="371.20" y1="291.19" x2="365.20" y2="291.19" stroke="#000" stroke-width="1.0"/>
<line x1="45.55" y1="284.73" x2="51.55" y2="284.73" stroke="#000" stroke-width="1.0"/>
<line x1="371.20" y1="284.73" x2="365.20" y2="284.73" stroke="#000" stroke-width="1.0"/>
<line x1="45.55" y1="279.14" x2="51.55" y2="279.14" stroke="#000" stroke-width="1.0"/>
<line x1="371.20" y1="279.14" x2="365.20" y2="279.14" stroke="#000" stroke-width="1.0"/>
<line x1="45.55" y1="274.21" x2="51.55" y2="274.21" stroke="#000" stroke-width="1.0"/>
<line x1="371.20" y1="274.21" x2="365.20" y2="274.21" stroke="#000" stroke-width="1.0"/>
<line x1="45.55" y1="269.80" x2="57.55" y2="269.80" stroke="#000" stroke-width="1.0"/>
<line x1="371.20" y1="269.80" x2="359.20" y2="269.80" stroke="#000" stroke-width="1.0"/>
<line x1="45.55" y1="240.78" x2="51.55" y2="240.78" stroke="#000" stroke-width="1.0"/>
<line x1="371.20" y1="240.78" x2="365.20" y2="240.78" stroke="#000" stroke-width="1.0"/>
<line x1="45.55" y1="223.81" x2="51.55" y2="223.81" stroke="#000" stroke-width="1.0"/>
<line x1="371.20" y1="223.81" x2="365.20" y2="223.81" stroke="#000" stroke-width="1.0"/>
<line x1="45.55" y1="211.76" x2="51.55" y2="211.76" stroke="#000" stroke-width="1.0"/>
<line x1="371.20" y1="211.76" x2="365.20" y2="211.76" stroke="#000" stroke-width="1.0"/>
<line x1="45.55" y1="202.42" x2="51.55" y2="202.42" stroke="#000" stroke-width="1.0"/>
<line x1="371.20" y1="202.42" x2="365.20" y2="202.42" stroke="#000" stroke-width="1.0"/>
<line x1="45.55" y1="194.79" x2="51.55" y2="194.79" stroke="#000" stroke-width="1.0"/>
<line x1="371.20" y1="194.79" x2="365.20" y2="194.79" stroke="#000" stroke-width="1.0"/>
<line x1="45.55" y1="188.33" x2="51.55" y2="188.33" stroke="#000" stroke-width="1.0"/>
<line x1="371.20" y1="188.33" x2="365.20" y2="188.33" stroke="#000" stroke-width="1.0"/>
<line x1="45.55" y1="182.74" x2="51.55" y2="182.74" stroke="#000" stroke-width="1.0"/>
<line x1="371.20" y1="182.74" x2="365.20" y2="182.74" stroke="#000" stroke-width="1.0"/>
<line x1="45.55" y1="177.81" x2="51.55" y2="177.81" stroke="#000" stroke-width="1.0"/>
<line x1="371.20" y1="177.81" x2="365.20" y2="177.81" stroke="#000" stroke-width="1.0"/>
<line x1="45.55" y1="173.40" x2="57.55" y2="173.40" stroke="#000" stroke-width="1.0"/>
<line x1="371.20" y1="173.40" x2="359.20" y2="173.40" stroke="#000" stroke-width="1.0"/>
<line x1="45.55" y1="144.38" x2="51.55" y2="144.38" stroke="#000" stroke-width="1.0"/>
<line x1="371.20" y1="144.38" x2="365.20" y2="144.38" stroke="#000" stroke-width="1.0"/>
<line x1="45.55" y1="127.41" x2="51.55" y2="127.41" stroke="#000" stroke-width="1.0"/>
<line x1="371.20" y1="127.41" x2="365.20" y2="127.41" stroke="#000" stroke-width="1.0"/>
<line x1="45.55" y1="115.36" x2="51.55" y2="115.36" stroke="#000" stroke-width="1.0"/>
<line x1="371.20" y1="115.36" x2="365.20" y2="115.36" stroke="#000" stroke-width="1.0"/>
<line x1="45.55" y1="106.02" x2="51.55" y2="106.02" stroke="#000" stroke-width="1.0"/>
<line x1="371.20" y1="106.02" x2="365.20" y2="106.02" stroke="#000" stroke-width="1.0"/>
<line x1="45.55" y1="98.39" x2="51.55" y2="98.39" stroke="#000" stroke-width="1.0"/>
<line x1="371.20" y1="98.39" x2="365.20" y2="98.39" stroke="#000" stroke-width="1.0"/>
<line x1="45.55" y1="91.93" x2="51.55" y2="91.93" stroke="#000" stroke-width="1.0"/>
<line x1="371.20" y1="91.93" x2="365.20" y2="91.93" stroke="#000" stroke-width="1.0"/>
<line x1="45.55" y1="86.34" x2="51.55" y2="86.34" stroke="#000" stroke-width="1.0"/>
<line x1="371.20" y1="86.34" x2="365.20" y2="86.34" stroke="#000" stroke-width="1.0"/>
<line x1="45.55" y1="81.41" x2="51.55" y2="81.41" stroke="#000" stroke-width="1.0"/>
<line x1="371.20" y1="81.41" x2="365.20" y2="81.41" stroke="#000" stroke-width="1.0"/>
<line x1="45.55" y1="77.00" x2="57.55" y2="77.00" stroke="#000" stroke-width="1.0"/>
<line x1="371.20" y1="77.00" x2="359.20" y2="77.00" stroke="#000" stroke-width="1.0"/>
<line x1="45.55" y1="47.98" x2="51.55" y2="47.98" stroke="#000" stroke-width="1.0"/>
<line x1="371.20" y1="47.98" x2="365.20" y2="47.98" stroke="#000" stroke-width="1.0"/>
<line x1="45.55" y1="31.01" x2="51.55" y2="31.01" stroke="#000" stroke-width="1.0"/>
<line x1="371.20" y1="31.01" x2="365.20" y2="31.01" stroke="#000" stroke-width="1.0"/>
<line x1="45.55" y1="18.96" x2="51.55" y2="18.96" stroke="#000" stroke-width="1.0"/>
<line x1="371.20" y1="18.96" x2="365.20" y2="18.96" stroke="#000" stroke-width="1.0"/>
<line x1="45.55" y1="458.35" x2="52.75" y2="458.35" stroke="#000" stroke-width="1.0"/>
<line x1="371.20" y1="458.35" x2="364.00" y2="458.35" stroke="#000" stroke-width="1.0"/>
<line x1="45.55" y1="442.41" x2="51.05" y2="442.41" stroke="#000" stroke-width="1.0"/>
<line x1="371.20" y1="442.41" x2="365.70" y2="442.41" stroke="#000" stroke-width="1.0"/>
<line x1="45.55" y1="428.93" x2="51.05" y2="428.93" stroke="#000" stroke-width="1.0"/>
<line x1="371.20" y1="428.93" x2="365.70" y2="428.93" stroke="#000" stroke-width="1.0"/>
<line x1="45.55" y1="417.26" x2="51.05" y2="417.26" stroke="#000" stroke-width="1.0"/>
<line x1="371.20" y1="417.26" x2="365.70" y2="417.26" stroke="#000" stroke-width="1.0"/>
<line x1="45.55" y1="406.96" x2="51.05" y2="406.96" stroke="#000" stroke-width="1.0"/>
<line x1="371.20" y1="406.96" x2="365.70" y2="406.96" stroke="#000" stroke-width="1.0"/>
<line x1="45.55" y1="397.75" x2="52.75" y2="397.75" stroke="#000" stroke-width="1.0"/>
<line x1="371.20" y1="397.75" x2="364.00" y2="397.75" stroke="#000" stroke-width="1.0"/>
<line x1="45.55" y1="389.42" x2="51.05" y2="389.42" stroke="#000" stroke-width="1.0"/>
<line x1="371.20" y1="389.42" x2="365.70" y2="389.42" stroke="#000" stroke-width="1.0"/>
<line x1="45.55" y1="381.81" x2="51.05" y2="381.81" stroke="#000" stroke-width="1.0"/>
<line x1="371.20" y1="381.81" x2="365.70" y2="381.81" stroke="#000" stroke-width="1.0"/>
<line x1="45.55" y1="374.81" x2="51.05" y2="374.81" stroke="#000" stroke-width="1.0"/>
<line x1="371.20" y1="374.81" x2="365.70" y2="374.81" stroke="#000" stroke-width="1.0"/>
<line x1="45.55" y1="368.33" x2="51.05" y2="368.33" stroke="#000" stroke-width="1.0"/>
<line x1="371.20" y1="368.33" x2="365.70" y2="368.33" stroke="#000" stroke-width="1.0"/>
<line x1="45.55" y1="362.30" x2="52.75" y2="362.30" stroke="#000" stroke-width="1.0"/>
<line x1="371.20" y1="362.30" x2="364.00" y2="362.30" stroke="#000" stroke-width="1.0"/>
<line x1="45.55" y1="356.66" x2="51.05" y2="356.66" stroke="#000" stroke-width="1.0"/>
<line x1="371.20" y1="356.66" x2="365.70" y2="356.66" stroke="#000" stroke-width="1.0"/>
<line x1="45.55" y1="351.36" x2="51.05" y2="351.36" stroke="#000" stroke-width="1.0"/>
<line x1="371.20" y1="351.36" x2="365.70" y2="351.36" stroke="#000" stroke-width="1.0"/>
<line x1="45.55" y1="346.36" x2="51.05" y2="346.36" stroke="#000" stroke-width="1.0"/>
<line x1="371.20" y1="346.36" x2="365.70" y2="346.36" stroke="#000" stroke-width="1.0"/>
<line x1="45.55" y1="341.64" x2="51.05" y2="341.64" stroke="#000" stroke-width="1.0"/>
<line x1="371.20" y1="341.64" x2="365.70" y2="341.64" stroke="#000" stroke-width="1.0"/>
<line x1="45.55" y1="337.15" x2="52.75" y2="337.15" stroke="#000" stroke-width="1.0"/>
<line x1="371.20" y1="337.15" x2="364.00" y2="337.15" stroke="#000" stroke-width="1.0"/>
<line x1="45.55" y1="332.89" x2="51.05" y2="332.89" stroke="#000" stroke-width="1.0"/>
<line x1="371.20" y1="332.89" x2="365.70" y2="332.89" stroke="#000" stroke-width="1.0"/>
<line x1="45.55" y1="328.82" x2="51.05" y2="328.82" stroke="#000" stroke-width="1.0"/>
<line x1="371.20" y1="328.82" x2="365.70" y2="328.82" stroke="#000" stroke-width="1.0"/>
<line x1="45.55" y1="324.93" x2="51.05" y2="324.93" stroke="#000" stroke-width="1.0"/>
<line x1="371.20" y1="324.93" x2="365.70" y2="324.93" stroke="#000" stroke-width="1.0"/>
<line x1="45.55" y1="321.21" x2="51.05" y2="321.21" stroke="#000" stroke-width="1.0"/>
<line x1="371.20" y1="321.21" x2="365.70" y2="321.21" stroke="#000" stroke-width="1.0"/>
<line x1="45.55" y1="317.64" x2="51.05" y2="317.64" stroke="#000" stroke-width="1.0"/>
<line x1="371.20" y1="317.64" x2="365.70" y2="317.64" stroke="#000" stroke-width="1.0"/>
<rect x="45.55" y="17.6" width="325.65" height="299.84999999999997" fill="none" stroke="#000" stroke-width="1.2"/>
<rect x="45.55" y="317.45" width="325.65" height="160.15000000000003" fill="none" stroke="#000" stroke-width="1.2"/>
<clipPath id="ct"><rect x="0" y="0" width="371.2" height="60"/></clipPath>
<g font-size="12.2" fill="#000">
<text x="51.2" y="14">8000 GeV pp</text>
<text x="367.2" y="14" text-anchor="end">Soft QCD</text>
<text x="47.9" y="43.6" font-size="12.3" textLength="315.6" lengthAdjust="spacing">ALFA+ATLAS hadron-level differential SD cross section vs</text>
<text x="366.4" y="43.6" font-size="12.3" clip-path="url(#ct)">|t|</text>
<text x="40.9" y="178.40" text-anchor="end">10</text>
<text x="40.9" y="274.80" text-anchor="end">1</text>
<text x="36.0" y="82.00" text-anchor="end">10</text>
<text x="34.6" y="76.8" font-size="7.8">2</text>
<text x="39.2" y="341.45" text-anchor="end">2</text>
<text x="39.2" y="402.05" text-anchor="end">1</text>
<text x="39.2" y="462.65" text-anchor="end">0.5</text>
<text x="373.6" y="341.45">2</text>
<text x="373.6" y="402.05">1</text>
<text x="373.6" y="462.65">0.5</text>
<text x="46.13" y="489.2" text-anchor="middle">0</text>
<text x="120.30" y="489.2" text-anchor="middle">0.1</text>
<text x="194.46" y="489.2" text-anchor="middle">0.2</text>
<text x="268.63" y="489.2" text-anchor="middle">0.3</text>
<text x="342.80" y="489.2" text-anchor="middle">0.4</text>
<text x="315.2" y="505.6" font-size="12.4">|t| [{GeV}</text>
<text x="365.6" y="499.2" font-size="9.2">2</text>
<text x="369.6" y="505.6" font-size="12.4">]</text>
</g>
<g transform="translate(14.9,107.9) rotate(-90)" font-size="12.2"><text x="0" y="0" >#</text></g>
<g transform="translate(9.8,98.4) rotate(-90)" font-size="12.4"><text x="0" y="0" textLength="12.6" lengthAdjust="spacingAndGlyphs">dσ</text></g>
<g transform="translate(23.5,101.0) rotate(-90)" font-size="12.6"><text x="0" y="0" textLength="19.3" lengthAdjust="spacing">d|t|</text></g>
<line x1="11.7" y1="82.1" x2="11.7" y2="100.5" stroke="#000" stroke-width="1.0"/>
<g transform="translate(14.8,79.0) rotate(-90)" font-size="12.2"><text x="0" y="0" >[mb/{GeV}</text></g>
<g transform="translate(8.7,24.1) rotate(-90)" font-size="8.4"><text x="0" y="0" >2</text></g>
<g transform="translate(14.8,20.2) rotate(-90)" font-size="12.2"><text x="0" y="0" >]</text></g>
<g transform="translate(19.2,427.2) rotate(-90)" font-size="9.8"><text x="0" y="0" textLength="60.2" lengthAdjust="spacingAndGlyphs">Ratio to ATLAS</text></g>
<g transform="translate(380,127.4) rotate(-90)" font-size="9.45" fill="#888888"><text x="0" y="0">Rivet 4.1.0, ≥ 400k events</text></g>
<g transform="translate(381.2,313.9) rotate(-90)" font-size="9.45" fill="#888888"><text x="0" y="0">mcplots.cern.ch [arXiv:2401.10621]</text></g>
<text x="162.5" y="301.8" font-size="8" fill="#a0a0a0">(ATLAS_2019_I1762584)</text>
</svg></body></html>
